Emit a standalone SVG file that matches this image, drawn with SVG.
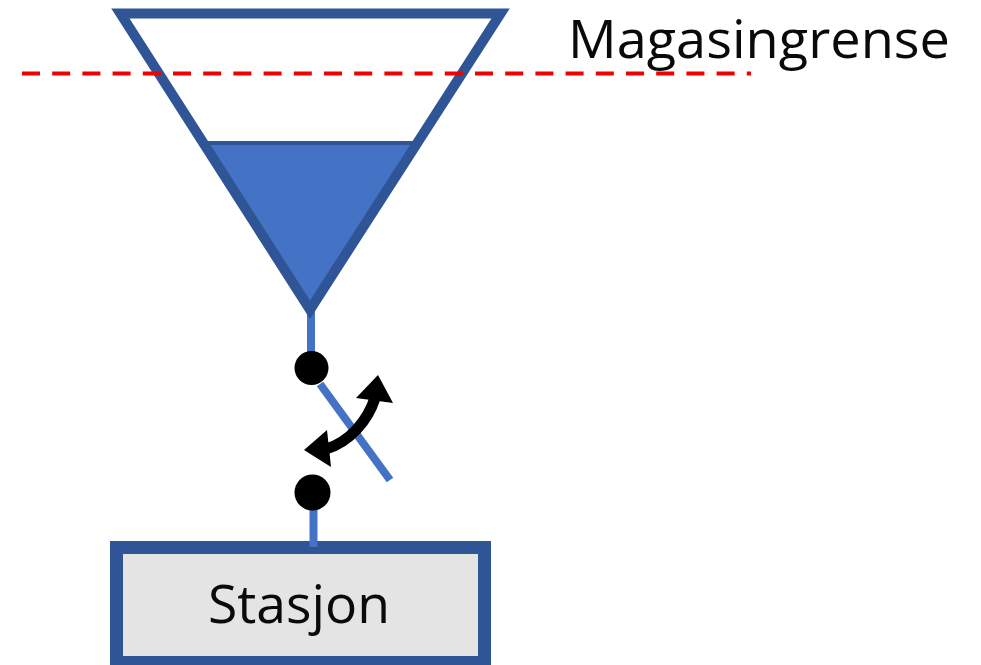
<svg xmlns="http://www.w3.org/2000/svg" width="981" height="665" viewBox="0 0 981 665">
<style>
.pipe{fill:none;stroke:#4472c4;stroke-width:8}
.label{font-family:"Open Sans","Noto Sans",sans-serif;font-size:52.500px;fill:#0a0a0a}
.dot{fill:#000}
</style>
<rect width="981" height="665" fill="#fff"/>
<g id="stasjon">
<rect x="116.500" y="547.500" width="368" height="115" fill="#e4e4e4" stroke="#2f5597" stroke-width="13"/>
<text class="label" x="208" y="623" textLength="182" lengthAdjust="spacingAndGlyphs">Stasjon</text>
</g>
<g id="connectors">
<path class="pipe" d="M311 305V356"/>
<path class="pipe" d="M320 384L390 480"/>
<path class="pipe" d="M313.500 505V547"/>
</g>
<g id="reservoir">
<path d="M120.400 13.500H500.600L310 309.700Z" fill="#fff"/>
<path d="M205 143H414L310 309Z" fill="#4472c4"/>
<path d="M199 143H420" stroke="#2f5597" stroke-width="4" fill="none"/>
<path d="M120.400 13.500H500.600L310 309.700Z" fill="none" stroke="#2f5597" stroke-width="10" stroke-miterlimit="10"/>
</g>
<g id="limit-line">
<path d="M22 73.500H751" fill="none" stroke="#f00000" stroke-width="4" stroke-dasharray="18 12.200"/>
</g>
<g id="contact-top"><circle class="dot" cx="311.500" cy="368" r="17"/></g>
<g id="contact-bottom"><circle class="dot" cx="312.500" cy="492.500" r="18"/></g>
<g id="switch-arrow">
<path d="M375 398C368 420 350 442 326 449" fill="none" stroke="#000" stroke-width="11"/>
<path d="M378 375L393 403L356 398Z" fill="#000"/>
<path d="M304 450L327 430L331 467Z" fill="#000"/>
</g>
<g id="magasingrense">
<text class="label" x="568" y="58" textLength="382" lengthAdjust="spacingAndGlyphs">Magasingrense</text>
</g>
</svg>
